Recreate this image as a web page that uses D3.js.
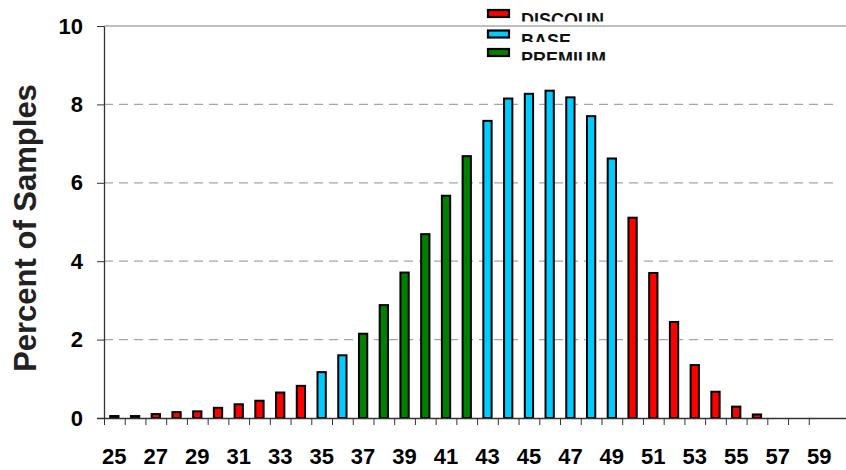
<!DOCTYPE html>
<html>
<head>
<meta charset="utf-8">
<script src="https://cdn.jsdelivr.net/npm/d3@7"></script>
<style>
  body { margin: 0; background: #fff; }
  svg { display: block; font-family: Arial, 'Liberation Sans', sans-serif; }
</style>
</head>
<body>
<svg width="846" height="470"></svg>
<script>
// chart data
const categories = d3.range(25, 60)
const percents = [
  0.05, 0.05, 0.1, 0.15, 0.17, 0.26, 0.35, 0.44, 0.65, 0.82,
  1.17, 1.6, 2.15, 2.88, 3.71, 4.69, 5.67, 6.68, 7.58, 8.15,
  8.27, 8.35, 8.18, 7.7, 6.62, 5.11, 3.7, 2.45, 1.35, 0.67,
  0.29, 0.09, 0, 0, 0,
]
const groups = [
  'DISCOUN', 'DISCOUN', 'DISCOUN', 'DISCOUN', 'DISCOUN', 'DISCOUN', 'DISCOUN', 'DISCOUN', 'DISCOUN', 'DISCOUN',
  'BASE', 'BASE', 'PREMIUM', 'PREMIUM', 'PREMIUM', 'PREMIUM', 'PREMIUM', 'PREMIUM', 'BASE', 'BASE',
  'BASE', 'BASE', 'BASE', 'BASE', 'BASE', 'DISCOUN', 'DISCOUN', 'DISCOUN', 'DISCOUN', 'DISCOUN',
  'DISCOUN', 'DISCOUN', 'DISCOUN', 'DISCOUN', 'DISCOUN',
]
const legendNames = ['DISCOUN', 'BASE', 'PREMIUM']
const legendColors = ['#ff0000', '#00ccff', '#008000']
const yTicks = [0, 2, 4, 6, 8, 10]
const yTitle = 'Percent of Samples'

const rows = categories.map((c, i) => ({ cat: c, value: percents[i], group: groups[i] }))

let svg = d3.select('svg')
const plotLeft = 104, plotRight = 829.5, plotTop = 26, plotBottom = 418

const color = d3.scaleOrdinal().domain(legendNames).range(legendColors)

// x: one band per value, ticks on the band edges
const xBand = d3.scaleBand().domain(categories).range([plotLeft, plotRight])
const xBar = xBand.copy().paddingInner(0.6).paddingOuter(0.3)
const xEdge = d3.scaleLinear().domain([25, 60]).range([plotLeft, plotRight])
const y = d3.scaleLinear().domain([0, 10]).range([plotBottom, plotTop])

// dashed gridlines
svg.append('g')
  .selectAll('line')
  .data(yTicks.filter((t) => t > 0 && t < 10))
  .enter()
  .append('line')
  .attr('x1', plotLeft)
  .attr('x2', 838)
  .attr('y1', (d) => y(d))
  .attr('y2', (d) => y(d))
  .attr('stroke', '#a6a6a6')
  .attr('stroke-width', 1.2)
  .attr('stroke-dasharray', '9,6')

// top border line
svg.append('line')
  .attr('x1', plotLeft).attr('x2', 846)
  .attr('y1', y(10)).attr('y2', y(10))
  .attr('stroke', '#808080')
  .attr('stroke-width', 1.2)

// bars
svg.append('g')
  .selectAll('rect')
  .data(rows.filter((d) => d.value > 0))
  .enter()
  .append('rect')
  .attr('x', (d) => xBar(d.cat))
  .attr('width', xBar.bandwidth())
  .attr('y', (d) => y(d.value))
  .attr('height', (d) => y(0) - y(d.value))
  .attr('fill', (d) => color(d.group))
  .attr('stroke', '#000')
  .attr('stroke-width', 2)

// y axis
const yAxis = svg.append('g')
  .attr('transform', `translate(${plotLeft},0)`)
  .call(d3.axisLeft(y).tickValues(yTicks).tickSize(7).tickPadding(14).tickSizeOuter(0))
yAxis.select('.domain').attr('stroke', '#333').attr('stroke-width', 1.3)
yAxis.selectAll('.tick line').attr('stroke', '#333')
yAxis.selectAll('.tick text')
  .attr('font-size', '22px')
  .attr('font-weight', 'bold')
  .attr('fill', '#000')
  .attr('font-family', 'Arial, Liberation Sans, sans-serif')

// x axis with ticks on band edges
const xAxis = svg.append('g')
  .attr('transform', `translate(0,${plotBottom})`)
  .call(d3.axisBottom(xEdge).tickValues(d3.range(25, 60)).tickSize(7).tickFormat('').tickSizeOuter(0))
xAxis.select('.domain').attr('d', `M97,0.5H846`).attr('stroke', '#333').attr('stroke-width', 1.3)
xAxis.selectAll('.tick line').attr('stroke', '#333')

svg.append('g')
  .selectAll('text')
  .data(categories.filter((c) => c % 2 === 1))
  .enter()
  .append('text')
  .attr('x', (d) => xBand(d) + xBand.bandwidth() / 2)
  .attr('y', 464)
  .attr('text-anchor', 'middle')
  .attr('font-size', '22px')
  .attr('font-weight', 'bold')
  .text((d) => d)

// y title
svg.append('text')
  .attr('transform', 'translate(36,228) rotate(-90)')
  .attr('text-anchor', 'middle')
  .attr('font-size', '31px')
  .attr('font-weight', 'bold')
  .attr('fill', '#222')
  .text(yTitle)

// legend, labels cut off at the bottom like the original
const legendRowY = [9, 29.5, 48]
const defs = svg.append('defs')
legendNames.forEach((name, i) => {
  const ry = legendRowY[i]
  defs.append('clipPath').attr('id', 'lg' + i)
    .append('rect')
    .attr('x', 515).attr('y', ry).attr('width', 200).attr('height', 12.5)
  svg.append('rect')
    .attr('x', 488).attr('y', ry + 1)
    .attr('width', 21).attr('height', 7)
    .attr('fill', legendColors[i])
    .attr('stroke', '#000')
    .attr('stroke-width', 2.2)
  svg.append('text')
    .attr('x', 521).attr('y', ry + 17)
    .attr('clip-path', `url(#lg${i})`)
    .attr('font-size', '18px')
    .attr('font-weight', 'bold')
    .attr('fill', '#111')
    .text(name)
})
</script>
</body>
</html>
